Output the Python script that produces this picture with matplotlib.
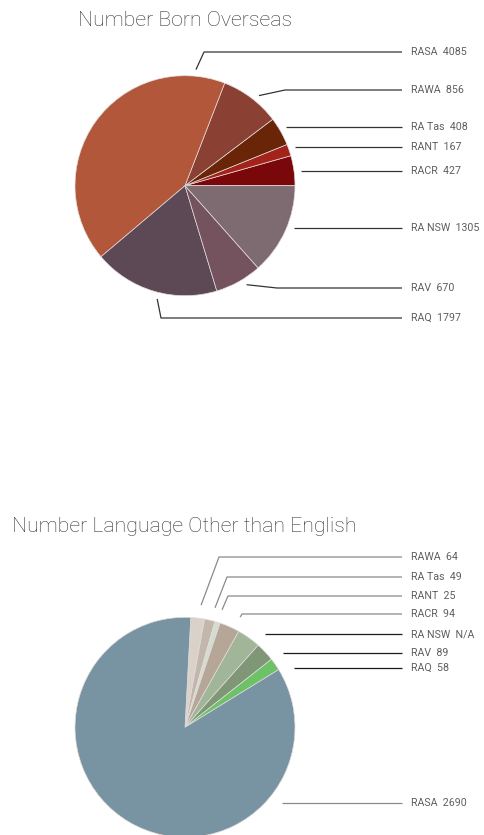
import numpy as np
import matplotlib
matplotlib.use("Agg")
import matplotlib.pyplot as plt

W, H = 484, 835

# Chart 1: Number Born Overseas (counterclockwise from 3 o'clock)
born_names = ["RACR", "RANT", "RA Tas", "RAWA", "RASA", "RAQ", "RAV", "RA NSW"]
born_values = [427, 167, 408, 856, 4085, 1797, 670, 1305]
born_text = ["427", "167", "408", "856", "4085", "1797", "670", "1305"]
born_colors = ["#7a0709", "#a3231a", "#6a2408", "#8a4032", "#b2573a",
               "#5d4856", "#74535e", "#7e6b71"]

# Chart 2: Number Language Other than English (clockwise from top)
lang_names = ["RAWA", "RA Tas", "RANT", "RACR", "RA NSW", "RAV", "RAQ", "RASA"]
lang_values = [64, 49, 25, 94, 110, 89, 58, 2690]
lang_text = ["64", "49", "25", "94", "N/A", "89", "58", "2690"]
lang_colors = ["#dad2c9", "#c3b6ab", "#d3dccd", "#b6a698", "#a1b598",
               "#7f9777", "#6dc166", "#7893a1"]

# leader layout: (anchor angle deg, label y px, elbow x px or None)
born_leaders = {
    "RASA": (84.6, 52, 204), "RAWA": (50.6, 90, 285), "RA Tas": (30.2, 127, None),
    "RANT": (19.7, 147, None), "RACR": (7.3, 171, None), "RA NSW": (-21.3, 228, None),
    "RAV": (-58.1, 288, 277), "RAQ": (-103.8, 318, 161),
}
lang_leaders = {
    "RAWA": (82.5, 557, 219), "RA Tas": (75.9, 577, 227), "RANT": (72.5, 596, 228),
    "RACR": (63.4, 614, 242), "RA NSW": (49.5, 634, None), "RAV": (37.3, 653, None),
    "RAQ": (27.5, 668, None), "RASA": (-37.7, 803, None),
}

plt.rcParams['font.family'] = ['Roboto', 'DejaVu Sans']

fig = plt.figure(figsize=(W / 100, H / 100), dpi=100)
ax = fig.add_axes([0, 0, 1, 1])


def draw_pie(names, values, texts, colors, center_px, radius, start, ccw,
             leaders, anchor_r, line_colors):
    cx, cy = center_px[0], H - center_px[1]
    ax.pie(values, colors=colors, startangle=start, counterclock=ccw,
           center=(cx, cy), radius=radius, frame=True,
           wedgeprops=dict(edgecolor="#e2dcdc", linewidth=0.5))
    for name, txt in zip(names, texts):
        ang, ly, ex = leaders[name]
        ax_ = cx + anchor_r * radius * np.cos(np.radians(ang))
        ay_ = cy + anchor_r * radius * np.sin(np.radians(ang))
        ly = H - ly
        if ex is None:
            xs, ys = [ax_, 402], [ly, ly]
        else:
            xs, ys = [ax_, ex, 402], [ay_, ly, ly]
        ax.plot(xs, ys, color=line_colors.get(name, "#333333"), lw=0.9,
                solid_capstyle="butt")
        ax.text(411, ly, name + "  " + txt, fontsize=7.7, color="#5e5e5e",
                va="center", ha="left")


draw_pie(born_names, born_values, born_text, born_colors, (185, 185.7), 110,
         0, True, born_leaders, 1.06, {})
draw_pie(lang_names, lang_values, lang_text, lang_colors, (185, 727.3), 110,
         87, False, lang_leaders, 1.12,
         {"RAWA": "#8a8a8a", "RA Tas": "#8a8a8a", "RANT": "#8a8a8a",
          "RACR": "#8a8a8a", "RASA": "#8a8a8a",
          "RA NSW": "#1a1a1a", "RAV": "#1a1a1a", "RAQ": "#1a1a1a"})

ax.text(78, H - 20, "Number Born Overseas", fontsize=15.3, color="#333333",
        fontweight="light", va="center", ha="left")
ax.text(12, H - 527, "Number Language Other than English", fontsize=15.3,
        color="#333333", fontweight="light", va="center", ha="left")

ax.set_xlim(0, W)
ax.set_ylim(0, H)
ax.set_aspect("auto")
ax.axis("off")

fig.savefig("out.png", dpi=100, facecolor="white")
